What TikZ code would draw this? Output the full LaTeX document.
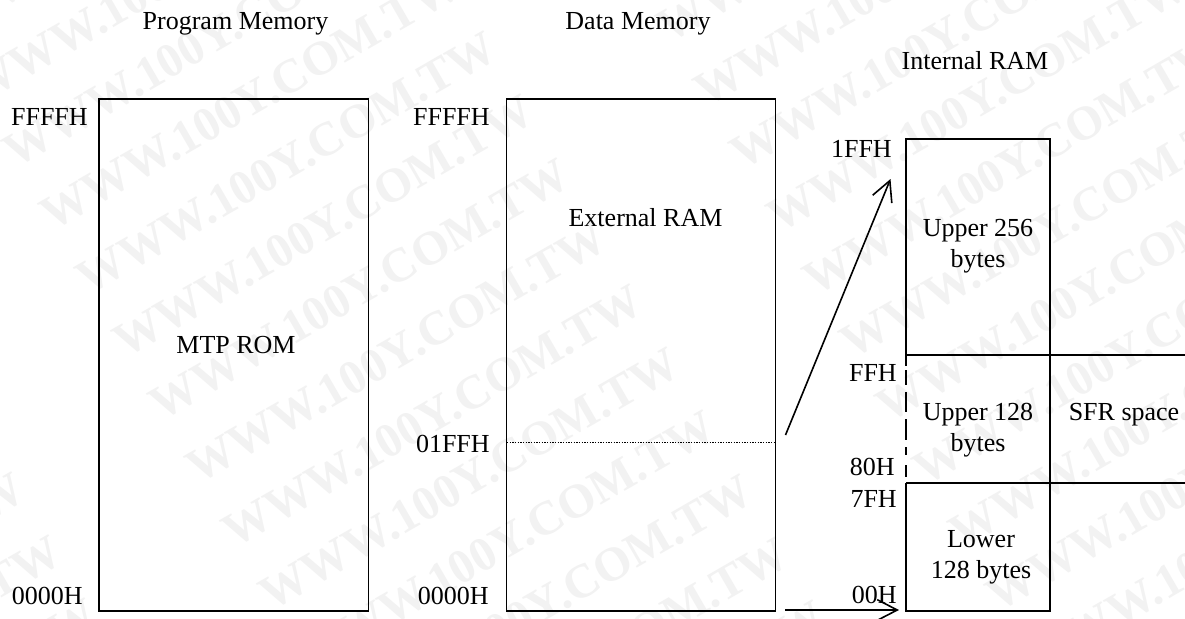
\documentclass[tikz,border=0pt]{standalone}
\usepackage{fontspec}
\setmainfont{Liberation Serif}
\usetikzlibrary{arrows.meta}
\tikzset{
  x=0.75pt,y=-0.75pt,
  box/.style={draw,line width=1.2pt},
  lbl/.style={font=\fontsize{19.5pt}{23.5pt}\selectfont,inner sep=0,align=center,text=black},
  base lbl/.style={lbl,anchor=base},
  addr/.style={lbl,anchor=base east},
  link/.style={line width=1.2pt},
  arr/.style={link,-{Straight Barb[length=15pt,width=15.5pt,line width=1.2pt]}},
  wm/.style={font=\bfseries\fontsize{36pt}{36pt}\selectfont,text=black!5,rotate=30,inner sep=0,anchor=base west}
}
\begin{document}
\begin{tikzpicture}
\path[use as bounding box] (0,0) rectangle (1185,618);
\fill[white] (0,0) rectangle (1185,618);
\begin{scope}
\clip (0,0) rectangle (1185,618);
\foreach \k in {-1,0,1,2}{
  \foreach \j in {-7,...,9}{
    \pgfmathsetmacro{\tt}{-71+629*\k}
    \pgfmathsetmacro{\nn}{519+73*\j}
    \pgfmathsetmacro{\xx}{\tt*0.866+\nn*0.5}
    \pgfmathsetmacro{\yy}{-\tt*0.5+\nn*0.866}
    \pgfmathtruncatemacro{\vis}{and(and(\xx+470>0,\xx-30<1185),and(\yy+30>0,\yy-290<618))}
    \ifnum\vis=1
      \node[wm] at (\xx,\yy) {WWW.100Y.COM.TW};
    \fi
  }
}
\end{scope}
% boxes
\draw[box] (99,99) rectangle (368.5,611);
\draw[box] (506.5,99) rectangle (775.5,611);
\draw[box] (906,355) -- (906,139) -- (1050,139) -- (1050,611) -- (906,611) -- (906,483);
\draw[box] (906,355) -- (1185,355);
\draw[box] (906,483) -- (1185,483);
\draw[line width=1.2pt,dash pattern=on 8.25pt off 3pt on 11.25pt off 5.25pt on 15pt off 5.25pt on 15.75pt off 5.25pt on 6pt off 7.5pt on 9pt off 4.5pt] (906,355) -- (906,483);
\coordinate (d1) at (507,442.5);
\coordinate (d2) at (775,442.5);
\draw[line width=0.9pt,dash pattern=on 1pt off 1pt] (d1) -- (d2);
% headings
\node[base lbl] (h1) at (235.5,29) {Program Memory};
\node[base lbl] (h2) at (638,29) {Data Memory};
\node[base lbl] (h3) at (975,69) {Internal RAM};
\node[base lbl] (m1) at (236,353) {MTP ROM};
\node[base lbl] (m2) at (645.5,226) {External RAM};
\node[lbl] (u256) at (978,246.5) {Upper 256\\bytes};
\node[lbl] (u128) at (978,430) {Upper 128\\bytes};
\node[base lbl] (sfr) at (1124,420) {SFR space};
\node[lbl] (l128) at (981,557.5) {Lower\\128 bytes};
% addresses
\node[addr] (a1) at (88,125) {FFFFH};
\node[addr] (a2) at (83,604) {0000H};
\node[addr] (a3) at (490,125) {FFFFH};
\node[addr] (a4) at (490,452) {01FFH};
\node[addr] (a5) at (489,604) {0000H};
\node[addr] (a6) at (892,157) {1FFH};
\node[addr] (a7) at (897,381) {FFH};
\node[addr] (a8) at (895,475) {80H};
\node[addr] (a9) at (897,507) {7FH};
\node[addr] (a10) at (897,603) {00H};
% arrows
\coordinate (s1) at (785.5,435);
\coordinate (e1) at (890.5,179);
\coordinate (s2) at (785,610);
\coordinate (e2) at (899,610);
\draw[arr] (s1) -- (e1);
\draw[arr] (s2) -- (e2);
\end{tikzpicture}
\end{document}
